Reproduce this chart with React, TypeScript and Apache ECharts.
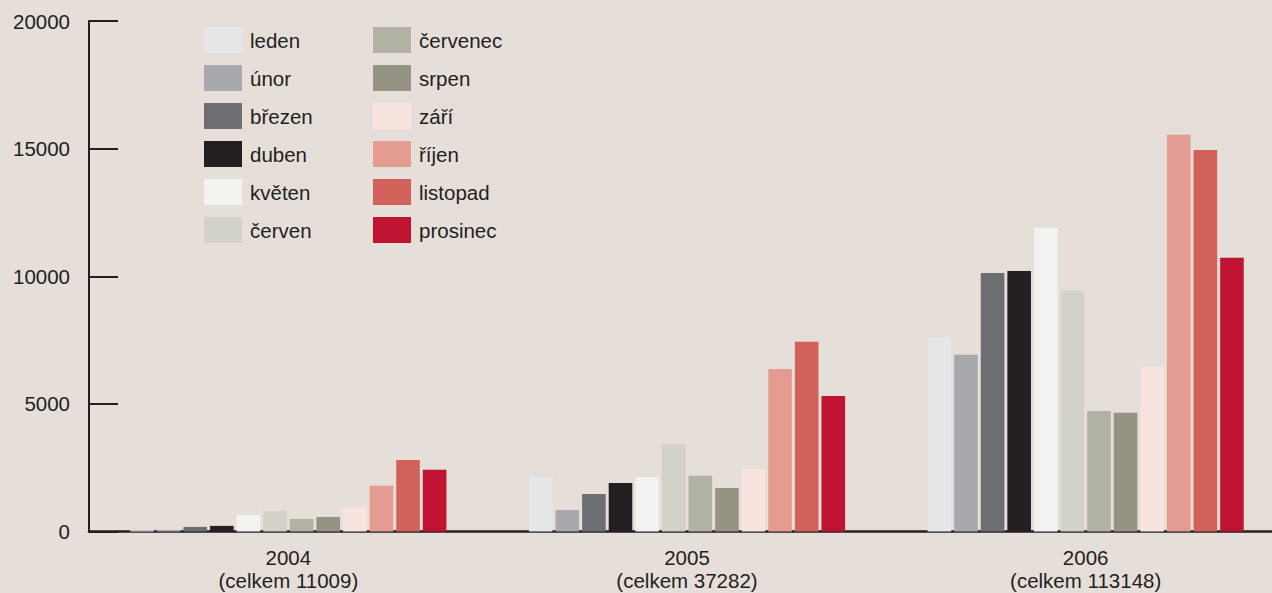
import React, { useEffect, useRef } from "react";
import * as echarts from "echarts";

const years = ["2004", "2005", "2006"];
const totals = ["11009", "37282", "113148"];
const months = ["leden", "únor", "březen", "duben", "květen", "červen", "červenec", "srpen", "září", "říjen", "listopad", "prosinec"];
// values per month: [2004, 2005, 2006]
const leden = [50, 2140, 7620];
const unor = [60, 840, 6920];
const brezen = [180, 1470, 10130];
const duben = [220, 1900, 10210];
const kveten = [650, 2140, 11900];
const cerven = [800, 3430, 9430];
const cervenec = [490, 2180, 4720];
const srpen = [570, 1700, 4650];
const zari = [960, 2450, 6450];
const rijen = [1790, 6370, 15540];
const listopad = [2800, 7430, 14950];
const prosinec = [2420, 5310, 10720];
const monthValues = [leden, unor, brezen, duben, kveten, cerven, cervenec, srpen, zari, rijen, listopad, prosinec];
const yTicks = { min: 0, max: 20000, interval: 5000 };

const palette = ["#e5e6e7", "#a8a9ad", "#6d6e71", "#231f20", "#f2f2f0", "#d2d2cb", "#b2b2a4", "#959383", "#f7e4de", "#e49c92", "#d1625a", "#c01432"];

const TEXT = "#231f20";
const FONT = "'Liberation Sans', Arial, Helvetica, sans-serif";

export default function App() {
  const ref = useRef<HTMLDivElement>(null);
  useEffect(() => {
    if (!ref.current) return;
    const chart = echarts.init(ref.current, undefined, { renderer: "svg" });
    const legendBase = {
      orient: "vertical" as const,
      itemWidth: 38,
      itemHeight: 26,
      itemGap: 12,
      padding: 0,
      icon: "rect",
      selectedMode: false,
      textStyle: { fontSize: 20.5, color: TEXT, fontFamily: FONT, padding: [0, 0, 0, 3] },
    };
    chart.setOption({
      animation: false,
      backgroundColor: "#e5ded9",
      color: palette,
      textStyle: { fontFamily: FONT },
      legend: [
        { ...legendBase, left: 204, top: 27, data: months.slice(0, 6) },
        { ...legendBase, left: 373, top: 27, data: months.slice(6) },
      ],
      grid: { left: 89, right: 5, top: 21, bottom: 61.5, containLabel: false },
      xAxis: {
        type: "category",
        data: years.map((y, i) => `${y}\n(celkem ${totals[i]})`),
        axisLine: { lineStyle: { color: TEXT, width: 2.5 } },
        axisTick: { show: false },
        axisLabel: { fontSize: 20.5, color: TEXT, fontFamily: FONT, lineHeight: 23, margin: 14 },
      },
      yAxis: {
        type: "value",
        min: yTicks.min,
        max: yTicks.max,
        interval: yTicks.interval,
        splitLine: { show: false },
        axisLine: { show: true, lineStyle: { color: TEXT, width: 2 } },
        axisTick: { show: true, inside: true, length: 29, lineStyle: { color: TEXT, width: 2 } },
        axisLabel: { fontSize: 20.5, color: TEXT, fontFamily: FONT, margin: 19, formatter: (v: number) => String(v) },
      },
      series: months.map((m, i) => ({
        name: m,
        type: "bar",
        data: monthValues[i],
        barWidth: 23.6,
        barGap: "12.7%",
        itemStyle: { color: palette[i] },
      })),
    });
    return () => chart.dispose();
  }, []);
  return (
    <div style={{ position: "fixed", left: 0, top: 0, width: 1272, height: 593, overflow: "hidden" }}>
      <div ref={ref} style={{ width: 1290, height: 593 }} />
    </div>
  );
}
